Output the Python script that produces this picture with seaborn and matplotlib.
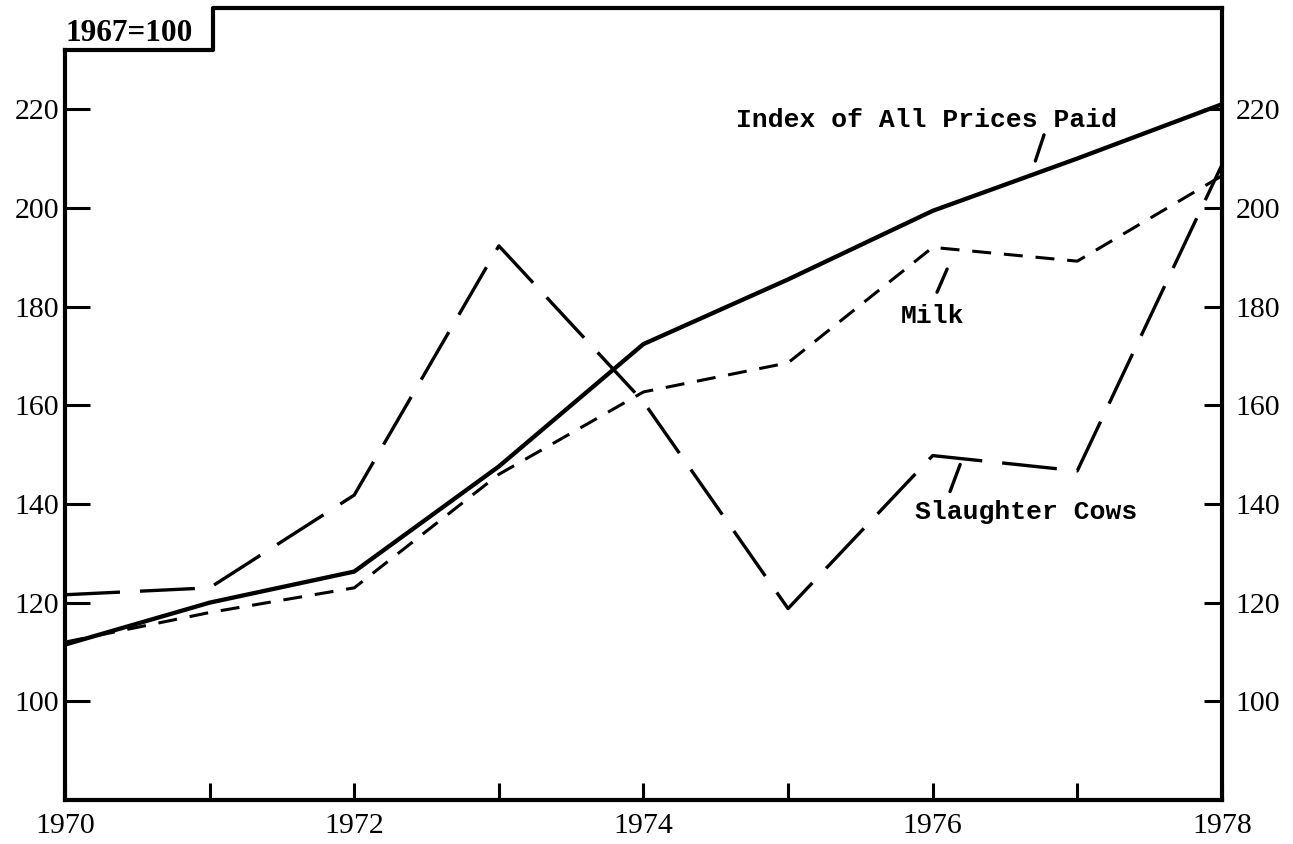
import numpy as np
import pandas as pd
import matplotlib
matplotlib.use("Agg")
import matplotlib.pyplot as plt
import seaborn as sns

# values (1967=100)
years = [1970, 1971, 1972, 1973, 1974, 1975, 1976, 1977, 1978]
index_all = [111.5, 120, 126.3, 147.6, 172.4, 185.5, 199.4, 210, 221]
milk = [112, 118, 123, 146, 162.7, 168.6, 192, 189.2, 206.5]
cows = [121.6, 123, 141.8, 192.3, 160.7, 118.8, 149.8, 146.7, 208.7]
x_labels = ["1970", "", "1972", "", "1974", "", "1976", "", "1978"]
y_ticks = [100, 120, 140, 160, 180, 200, 220]

sns.set_style("ticks")
plt.rcParams['font.family'] = ['Liberation Serif', 'DejaVu Serif']
plt.rcParams.update({
    "axes.edgecolor": "black",
    "xtick.color": "black",
    "ytick.color": "black",
    "text.color": "black",
    "axes.labelcolor": "black",
})

fig = plt.figure(figsize=(12.93, 8.44), dpi=100)
ax = fig.add_axes([0.0503, 0.0521, 0.8947, 0.9384])

ymin, ymax = 80, 240.5

# series
sns.lineplot(x=years, y=index_all, ax=ax, color="black", lw=3.1)
sns.lineplot(x=years, y=milk, ax=ax, color="black", lw=2.2,
             linestyle=(0, (6.2, 4.2)))
sns.lineplot(x=years, y=cows, ax=ax, color="black", lw=2.4,
             linestyle=(0, (16.5, 6)))

ax.set_xlim(1970, 1978)
ax.set_ylim(ymin, ymax)
ax.set_xticks(years)
ax.set_xticklabels(x_labels)
ax.set_yticks(y_ticks)

# frame: notched top where the base note sits
for s in ["top", "right"]:
    ax.spines[s].set_visible(False)
for s in ["left", "bottom"]:
    ax.spines[s].set_linewidth(3)
ax.spines["left"].set_bounds(ymin, 232)
ax.plot([1970, 1971.02, 1971.02, 1978], [232, 232, ymax, ymax],
        color="black", lw=3, clip_on=False, solid_capstyle="projecting")

ax.tick_params(axis="y", direction="in", length=18, width=2.2,
               labelsize=21.5, pad=4)
ax.tick_params(axis="x", direction="in", length=12, width=2.2,
               labelsize=21.5, pad=9)

# right-hand scale
ax2 = ax.twinx()
ax2.set_ylim(ymin, ymax)
ax2.set_yticks(y_ticks)
for s in ["top", "left", "bottom"]:
    ax2.spines[s].set_visible(False)
ax2.spines["right"].set_linewidth(3)
ax2.tick_params(axis="y", direction="in", length=13, width=2.2,
                labelsize=21.5, pad=10)

ax.text(1970.0, 233.8, "1967=100", ha="left", va="baseline",
        fontsize=22.5, fontweight="bold")

mono = ["Liberation Mono", "DejaVu Sans Mono"]
ax.text(1974.64, 216.3, "Index of All Prices Paid", family=mono,
        fontsize=19, fontweight="bold", ha="left", va="baseline")
ax.text(1975.78, 176.6, "Milk", family=mono, fontsize=19,
        fontweight="bold", ha="left", va="baseline")
ax.text(1975.88, 137.0, "Slaughter Cows", family=mono, fontsize=19,
        fontweight="bold", ha="left", va="baseline")

# short leader strokes from labels to lines
leaders = [((1976.77, 214.8), (1976.71, 209.5)),
           ((1976.10, 187.6), (1976.03, 182.9)),
           ((1976.19, 148.0), (1976.12, 142.5))]
for a, b in leaders:
    ax.annotate("", xy=b, xytext=a,
                arrowprops=dict(arrowstyle="-", lw=2.4, color="black",
                                shrinkA=0, shrinkB=0))

fig.savefig("out.png", dpi=100)
